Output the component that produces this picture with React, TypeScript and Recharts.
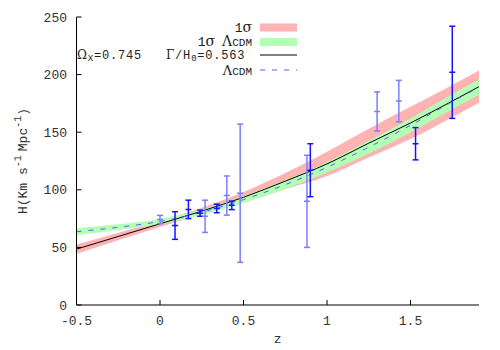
import React from "react";
import { Area, ComposedChart, ErrorBar, Line, Scatter, XAxis, YAxis } from "recharts";

// curves sampled on a z grid
const zGrid = [-0.5, -0.25, 0, 0.25, 0.5, 0.75, 1, 1.25, 1.5, 1.75, 1.91];
const modelH = [48.5, 59.5, 70.5, 81.5, 93.5, 107.5, 122.5, 140.5, 158, 177, 189.5];
const modelLow = [44.5, 56.3, 67.8, 78.5, 89, 100.5, 112, 128, 144, 163, 175.5];
const modelHigh = [52.5, 62.7, 73.2, 84.5, 98, 114.5, 133, 153, 172, 191, 203.5];
const lcdmH = [63.6, 67.5, 72.5, 80.5, 91.5, 104.5, 119.5, 137, 156, 176.5, 189];
const lcdmLow = [60.6, 65, 70.3, 78.2, 88.5, 100.7, 115, 131.5, 150, 170, 182.5];
const lcdmHigh = [66.6, 70, 74.7, 82.8, 94.5, 108.3, 124, 142.5, 162, 183, 195.5];

// H(z) measurements
const obsZ = [0, 0.09, 0.17, 0.24, 0.27, 0.34, 0.4, 0.43, 0.48, 0.88, 0.9, 1.3, 1.43, 1.53, 1.75];
const obsH = [74.2, 69, 83, 79.7, 77, 83.8, 95, 86.5, 97, 90, 117, 168, 177, 140, 202];
const obsErr = [3.6, 12, 8, 2.7, 14, 3.7, 17, 3.7, 60, 40, 23, 17, 18, 14, 40];
const obsFaint = [true, false, false, false, true, false, true, false, true, true, false, true, true, false, false];

const xTicks = [-0.5, 0, 0.5, 1, 1.5];
const yTicks = [0, 50, 100, 150, 200, 250];

const FONT = "'Liberation Mono', 'DejaVu Sans Mono', monospace";
const SERIF = "'DejaVu Serif', serif";
const DARK = "#1414ff";
const FAINT = "#7c7cff";

const curveData = zGrid.map((z, i) => ({
  z,
  model: modelH[i],
  band: [modelLow[i], modelHigh[i]],
  lcdm: lcdmH[i],
  lcdmBand: [lcdmLow[i], lcdmHigh[i]]
}));

const points = obsZ.map((z, i) => ({ z, H: obsH[i], err: obsErr[i], faint: obsFaint[i] }));
const darkPoints = points.filter((p) => !p.faint);
const faintPoints = points.filter((p) => p.faint);

const bottomTick = (props: any) => {
  const { x, y, payload } = props;
  return (
    <g>
      <line x1={x} x2={x} y1={y} y2={y - 5} stroke="#000" />
      <text x={x} y={y + 19.5} textAnchor="middle" fontSize={13} fontFamily={FONT} fill="#333">
        {payload.value}
      </text>
    </g>
  );
};

const leftTick = (props: any) => {
  const { x, y, payload } = props;
  return (
    <g>
      <line x1={x} x2={x + 5} y1={y} y2={y} stroke="#000" />
      <text x={x - 9.5} y={y + 4.5} textAnchor="end" fontSize={13} fontFamily={FONT} fill="#333">
        {payload.value}
      </text>
    </g>
  );
};

const topTick = (props: any) => {
  const { x, y } = props;
  return <line x1={x} x2={x} y1={y} y2={y + 5} stroke="#000" />;
};

const rightTick = (props: any) => {
  const { x, y } = props;
  return <line x1={x} x2={x - 5} y1={y} y2={y} stroke="#000" />;
};

const pointMark = (color: string) => (props: any) => (
  <line x1={props.cx - 3} x2={props.cx + 3} y1={props.cy} y2={props.cy} stroke={color} strokeWidth={1.5} />
);

function YLabel(props: any) {
  const { x, y, height } = props.viewBox;
  const cx = x + 23;
  const cy = y + height / 2;
  return (
    <text
      x={cx}
      y={cy}
      transform={`rotate(-90 ${cx} ${cy})`}
      textAnchor="middle"
      fontSize={13}
      fontFamily={FONT}
      fill="#333"
      dominantBaseline="central"
    >
      H(Km s
      <tspan dy={-5} fontSize={10}>-1</tspan>
      <tspan dy={5} dx={4}>Mpc</tspan>
      <tspan dy={-5} fontSize={10}>-1</tspan>
      <tspan dy={5}>)</tspan>
    </text>
  );
}

function XLabel(props: any) {
  const { x, y, width } = props.viewBox;
  return (
    <text x={x + width / 2} y={y + 38} textAnchor="middle" fontSize={13} fontFamily={FONT} fill="#333">
      z
    </text>
  );
}

function LegendBox() {
  const txt = { fontSize: 13, fontFamily: FONT, fill: "#222" };
  return (
    <svg width={500} height={350} style={{ position: "absolute", left: 0, top: 0, pointerEvents: "none" }}>
      <text x={252} y={31.5} textAnchor="end" {...txt}>
        1<tspan fontFamily={SERIF} fontSize={14}>σ</tspan>
      </text>
      <rect x={260} y={23.5} width={37} height={8} fill="#ffb3b3" />
      <text x={252} y={45.5} textAnchor="end" {...txt}>
        1<tspan fontFamily={SERIF} fontSize={14}>σ</tspan>
        <tspan dx={7} fontFamily={SERIF} fontSize={14}>Λ</tspan>
        <tspan fontSize={11}>CDM</tspan>
      </text>
      <rect x={260} y={38} width={37} height={8} fill="#b3ffb3" />
      <text x={77} y={59} fontSize={12} fontFamily={FONT} fill="#222" letterSpacing={0.8}>
        <tspan fontFamily={SERIF}>Ω</tspan>
        <tspan dy={2} fontSize={9}>X</tspan>
        <tspan dy={-2}>=0.745</tspan>
        <tspan dx={24} fontFamily={SERIF}>Γ</tspan>
        <tspan>/H</tspan>
        <tspan dy={2} fontSize={9}>0</tspan>
        <tspan dy={-2}>=0.563</tspan>
      </text>
      <line x1={260} x2={297} y1={55} y2={55} stroke="#000" />
      <text x={252} y={75} textAnchor="end" {...txt}>
        <tspan fontFamily={SERIF} fontSize={13}>Λ</tspan>
        <tspan fontSize={11}>CDM</tspan>
      </text>
      <line x1={260} x2={297} y1={70} y2={70} stroke="#5a5aff" strokeDasharray="5 7" />
    </svg>
  );
}

export default function App() {
  return (
    <div style={{ position: "fixed", left: 0, top: 0, width: 500, height: 350, background: "#fff" }}>
      <ComposedChart
        width={500}
        height={350}
        data={curveData}
        margin={{ top: 17, right: 21, bottom: 0, left: 0 }}
      >
        <XAxis
          type="number"
          dataKey="z"
          domain={[-0.5, 1.91]}
          ticks={xTicks}
          allowDataOverflow
          height={45}
          tickSize={0}
          tickMargin={0}
          tickLine={false}
          axisLine={{ stroke: "#000" }}
          tick={bottomTick}
          label={{ content: XLabel }}
        />
        <XAxis
          xAxisId="top"
          orientation="top"
          type="number"
          dataKey="z"
          domain={[-0.5, 1.91]}
          ticks={xTicks}
          allowDataOverflow
          height={0}
          tickSize={0}
          tickMargin={0}
          tickLine={false}
          axisLine={{ stroke: "#222" }}
          tick={topTick}
        />
        <YAxis
          type="number"
          domain={[0, 250]}
          ticks={yTicks}
          allowDataOverflow
          width={76.5}
          tickSize={0}
          tickMargin={0}
          tickLine={false}
          axisLine={{ stroke: "#000" }}
          tick={leftTick}
          label={{ content: YLabel }}
        />
        <YAxis
          yAxisId="right"
          orientation="right"
          type="number"
          domain={[0, 250]}
          ticks={yTicks}
          allowDataOverflow
          width={0}
          tickSize={0}
          tickMargin={0}
          tickLine={false}
          axisLine={{ stroke: "#888", strokeWidth: 2 }}
          tick={rightTick}
        />
        <Area
          type="monotone"
          dataKey="band"
          stroke="none"
          fill="#ffb3b3"
          fillOpacity={1}
          isAnimationActive={false}
        />
        <Area
          type="monotone"
          dataKey="lcdmBand"
          stroke="none"
          fill="#b3ffb3"
          fillOpacity={1}
          isAnimationActive={false}
        />
        <Line
          type="monotone"
          dataKey="model"
          stroke="#000"
          strokeWidth={1}
          dot={false}
          isAnimationActive={false}
        />
        <Line
          type="monotone"
          dataKey="lcdm"
          stroke="#5a5aff"
          strokeWidth={1}
          strokeDasharray="5 7"
          dot={false}
          isAnimationActive={false}
        />
        <Scatter data={faintPoints} dataKey="H" shape={pointMark(FAINT)} isAnimationActive={false}>
          <ErrorBar dataKey="err" direction="y" width={3} stroke={FAINT} strokeWidth={1.5} />
        </Scatter>
        <Scatter data={darkPoints} dataKey="H" shape={pointMark(DARK)} isAnimationActive={false}>
          <ErrorBar dataKey="err" direction="y" width={3} stroke={DARK} strokeWidth={1.5} />
        </Scatter>
      </ComposedChart>
      <LegendBox />
    </div>
  );
}
